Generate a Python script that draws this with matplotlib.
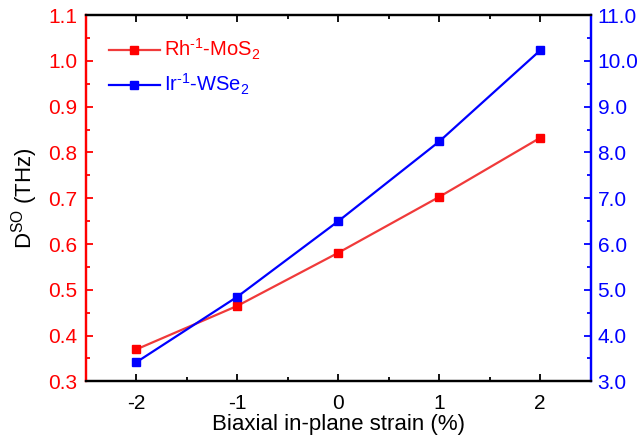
import matplotlib
matplotlib.use("Agg")
import matplotlib.pyplot as plt
from matplotlib.ticker import MultipleLocator, FormatStrFormatter

plt.rcParams['font.family'] = ['Liberation Sans', 'DejaVu Sans']
plt.rcParams['mathtext.fontset'] = 'custom'
plt.rcParams['mathtext.rm'] = 'Liberation Sans'
plt.rcParams['mathtext.it'] = 'Liberation Sans'
plt.rcParams['axes.unicode_minus'] = False

# Data
strain = [-2, -1, 0, 1, 2]
rh_mos2 = [0.370, 0.465, 0.581, 0.703, 0.832]
ir_wse2 = [3.42, 4.85, 6.50, 8.24, 10.23]

red = "#FF0000"
blue = "#0000FF"

fig = plt.figure(figsize=(6.42, 4.45), dpi=100)
ax = fig.add_axes([0.134, 0.143, 0.786, 0.823])
ax2 = ax.twinx()

l1, = ax.plot(strain, rh_mos2, color="#F03A3A", lw=1.6, marker='s', ms=5.5,
              mfc=red, mec=red, label=r'Rh$^{\text{-1}}$-MoS$_2$')
l2, = ax2.plot(strain, ir_wse2, color=blue, lw=1.6, marker='s', ms=5.5,
               mfc=blue, mec=blue, label=r'Ir$^{\text{-1}}$-WSe$_2$')

ax.set_xlim(-2.5, 2.5)
ax.set_ylim(0.3, 1.1)
ax2.set_ylim(3.0, 11.0)

ax.xaxis.set_major_locator(MultipleLocator(1))
ax.xaxis.set_minor_locator(MultipleLocator(0.5))
ax.yaxis.set_major_locator(MultipleLocator(0.1))
ax.yaxis.set_minor_locator(MultipleLocator(0.05))
ax.yaxis.set_major_formatter(FormatStrFormatter('%.1f'))
ax2.yaxis.set_major_locator(MultipleLocator(1.0))
ax2.yaxis.set_minor_locator(MultipleLocator(0.5))
ax2.yaxis.set_major_formatter(FormatStrFormatter('%.1f'))

fs = 15
ax.tick_params(axis='x', which='both', direction='in', top=True, labelsize=fs,
               color='black', width=1.3, pad=9)
ax.tick_params(axis='x', which='major', length=5)
ax.tick_params(axis='x', which='minor', length=3)
ax.tick_params(axis='y', which='both', direction='in', colors=red, labelsize=fs,
               width=1.3, right=False, pad=6)
ax.tick_params(axis='y', which='major', length=5)
ax.tick_params(axis='y', which='minor', length=3)
ax2.tick_params(axis='y', which='both', direction='in', colors=blue, labelsize=fs,
                width=1.3, pad=5)
ax2.tick_params(axis='y', which='major', length=5)
ax2.tick_params(axis='y', which='minor', length=3)

for a in (ax, ax2):
    a.spines['left'].set_color(red)
    a.spines['right'].set_color(blue)
    a.spines['top'].set_color('black')
    a.spines['bottom'].set_color('black')
    for s in a.spines.values():
        s.set_linewidth(1.6)

ax.set_xlabel('Biaxial in-plane strain (%)', fontsize=16, labelpad=1)
ax.set_ylabel(r'D$^{\mathrm{SO}}$ (THz)', fontsize=16, labelpad=6)

leg = ax.legend(handles=[l1, l2], loc='upper left', bbox_to_anchor=(0.01, 0.99),
                frameon=False, fontsize=14.5, handlelength=2.5, handletextpad=0.2,
                labelspacing=0.5)
leg.get_texts()[0].set_color(red)
leg.get_texts()[1].set_color(blue)

fig.savefig("out.png", dpi=100)
